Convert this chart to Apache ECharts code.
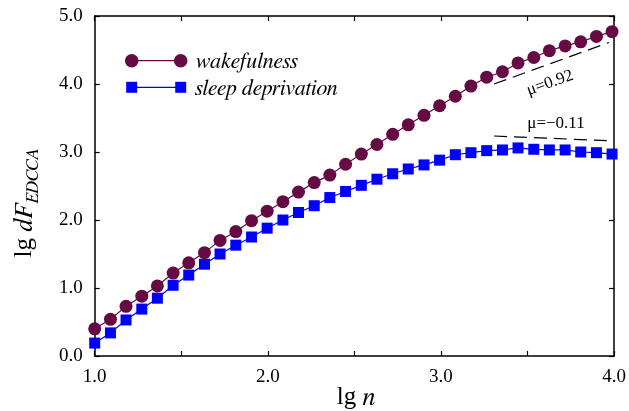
<!DOCTYPE html>
<html>
<head>
<meta charset="utf-8">
<script src="https://cdn.jsdelivr.net/npm/echarts@6/dist/echarts.min.js"></script>
<style>
html,body{margin:0;padding:0;background:#fff;}
#chart{width:629px;height:411px;}
</style>
</head>
<body>
<div id="chart"></div>
<script>
// ---- data ----
const lgN = [1.000,1.091,1.181,1.272,1.362,1.453,1.543,1.634,1.724,1.815,1.906,1.996,2.087,2.177,2.268,2.358,2.449,2.540,2.630,2.721,2.811,2.902,2.992,3.083,3.173,3.264,3.355,3.445,3.536,3.626,3.717,3.807,3.898,3.988];
const wakefulness = [0.40,0.54,0.73,0.88,1.03,1.22,1.37,1.52,1.70,1.83,1.99,2.13,2.27,2.41,2.55,2.66,2.82,2.97,3.11,3.26,3.40,3.54,3.68,3.82,3.97,4.10,4.18,4.31,4.39,4.49,4.56,4.62,4.70,4.77];
const sleepDeprivation = [0.19,0.34,0.53,0.69,0.85,1.04,1.19,1.35,1.50,1.63,1.75,1.88,2.00,2.11,2.21,2.33,2.42,2.51,2.60,2.68,2.75,2.81,2.88,2.96,2.99,3.02,3.03,3.06,3.04,3.03,3.03,3.00,2.99,2.97];
const fitWakeX = [3.306, 3.97];
const fitWakeY = [4.00, 4.61];
const fitSleepX = [3.306, 3.97];
const fitSleepY = [3.235, 3.166];
const xTickLabels = ['1.0','2.0','3.0','4.0'];
const yTickLabels = ['0.0','1.0','2.0','3.0','4.0','5.0'];
const seriesNames = ['wakefulness','sleep deprivation'];
const fitLabels = ['μ=0.92','μ=−0.11'];

const FONT = "'Liberation Serif', serif";
const IFONT = "FreeSerif, 'Liberation Serif', serif";
const MAROON = '#660a44';
const BLUE = '#0000ff';

const zip = (xs, ys) => xs.map((x, i) => [x, ys[i]]);

const chart = echarts.init(document.getElementById('chart'), null, {renderer: 'canvas'});

const axisCommon = {
  axisLine: {show: true, onZero: false, lineStyle: {color: '#000', width: 1.5}},
  axisTick: {show: true, inside: true, length: 5, lineStyle: {color: '#000', width: 1.2}},
  splitLine: {show: false}
};

const txt = (extra) => Object.assign({fill: '#000', fontFamily: FONT}, extra);
const itxt = (extra) => Object.assign({fill: '#000', fontFamily: IFONT, fontStyle: 'italic'}, extra);

const option = {
  animation: false,
  backgroundColor: '#fff',
  grid: {left: 94.7, right: 12.3, top: 16, bottom: 55, containLabel: false},
  xAxis: [
    Object.assign({
      type: 'value', min: 1, max: 4, interval: 0.5, position: 'bottom',
      axisLabel: {
        margin: 12, color: '#000', fontFamily: FONT, fontSize: 19,
        formatter: v => { const s = v.toFixed(1); return xTickLabels.includes(s) ? s : ''; }
      }
    }, axisCommon),
    Object.assign({
      type: 'value', min: 1, max: 4, interval: 0.5, position: 'top',
      axisLabel: {show: false}
    }, axisCommon)
  ],
  yAxis: [
    Object.assign({
      type: 'value', min: 0, max: 5, interval: 1, position: 'left',
      axisLabel: {
        margin: 12, color: '#000', fontFamily: FONT, fontSize: 19,
        formatter: v => { const s = v.toFixed(1); return yTickLabels.includes(s) ? s : ''; }
      }
    }, axisCommon),
    Object.assign({
      type: 'value', min: 0, max: 5, interval: 1, position: 'right',
      axisLabel: {show: false}
    }, axisCommon)
  ],
  series: [
    {
      name: seriesNames[1], type: 'line', data: zip(lgN, sleepDeprivation),
      symbol: 'rect', symbolSize: 11, showSymbol: true,
      itemStyle: {color: BLUE}, lineStyle: {color: BLUE, width: 1.2}, z: 3
    },
    {
      name: seriesNames[0], type: 'line', data: zip(lgN, wakefulness),
      symbol: 'circle', symbolSize: 13, showSymbol: true,
      itemStyle: {color: MAROON}, lineStyle: {color: MAROON, width: 1.2}, z: 4
    },
    {
      name: 'fit1', type: 'line', data: zip(fitWakeX, fitWakeY), symbol: 'none',
      lineStyle: {color: '#000', width: 1.2, type: [13, 7]}, z: 2
    },
    {
      name: 'fit2', type: 'line', data: zip(fitSleepX, fitSleepY), symbol: 'none',
      lineStyle: {color: '#000', width: 1.2, type: [13, 7]}, z: 2
    }
  ],
  graphic: [
    // legend: wakefulness
    {type: 'line', shape: {x1: 131.7, y1: 60.7, x2: 180.7, y2: 60.7}, style: {stroke: MAROON, lineWidth: 1.2}},
    {type: 'circle', shape: {cx: 131.7, cy: 60.7, r: 6.8}, style: {fill: MAROON}},
    {type: 'circle', shape: {cx: 180.7, cy: 60.7, r: 6.8}, style: {fill: MAROON}},
    {type: 'text', x: 195, y: 61, style: {text: '{t|' + seriesNames[0] + '}', rich: {t: itxt({fontSize: 22})}, align: 'left', verticalAlign: 'middle'}},
    // legend: sleep deprivation
    {type: 'line', shape: {x1: 131.7, y1: 87.3, x2: 180.7, y2: 87.3}, style: {stroke: BLUE, lineWidth: 1.2}},
    {type: 'rect', shape: {x: 126.2, y: 81.8, width: 11, height: 11}, style: {fill: BLUE}},
    {type: 'rect', shape: {x: 175.2, y: 81.8, width: 11, height: 11}, style: {fill: BLUE}},
    {type: 'text', x: 195, y: 88, style: {text: '{t|' + seriesNames[1] + '}', rich: {t: itxt({fontSize: 22})}, align: 'left', verticalAlign: 'middle'}},
    // fit labels
    {type: 'text', x: 550, y: 83, rotation: 0.34, style: {text: '{t|' + fitLabels[0] + '}', rich: {t: txt({fontSize: 17})}, align: 'center', verticalAlign: 'middle'}},
    {type: 'text', x: 556, y: 124, style: {text: '{t|' + fitLabels[1] + '}', rich: {t: txt({fontSize: 17})}, align: 'center', verticalAlign: 'middle'}},
    // axis titles
    {type: 'text', x: 356, y: 397, style: {
      text: '{a|lg }{b|n}', align: 'center', verticalAlign: 'middle',
      rich: {a: txt({fontSize: 25}), b: itxt({fontSize: 26})}
    }},
    {type: 'text', x: 24, y: 203, rotation: Math.PI / 2, style: {
      text: '{a|lg }{b|dF}{c|EDCCA}', align: 'center', verticalAlign: 'middle',
      rich: {
        a: txt({fontSize: 25}),
        b: itxt({fontSize: 26}),
        c: itxt({fontSize: 18, padding: [18, 0, 0, 0]})
      }
    }}
  ]
};

chart.setOption(option);
</script>
</body>
</html>
